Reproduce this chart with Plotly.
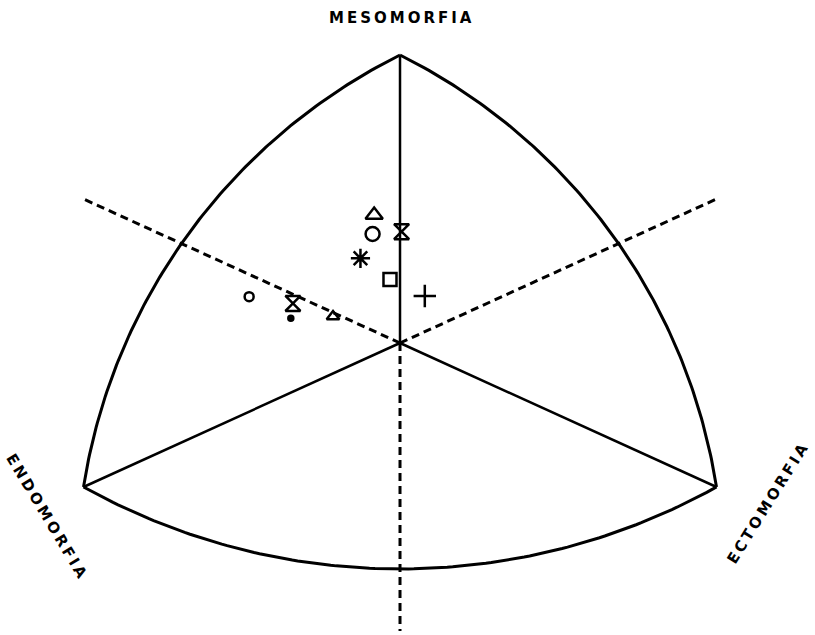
import numpy as np
import plotly.graph_objects as go

# Somatochart coordinates: X = ecto - endo, Y = 2*meso - (endo + ecto)
series_names = ["A", "B", "C", "D", "E", "F", "G", "H", "H2", "I"]
point_x = [-0.49, -0.52, 0.03, -0.75, -0.19, 0.47, -2.86, -2.03, -2.07, -1.27]
point_y = [5.33, 4.54, 4.64, 3.53, 2.65, 1.96, 1.93, 1.65, 1.03, 1.10]
point_symbol = ["triangle-up-open", "circle-open", "hourglass-open", "asterisk-open",
                "square-open", "cross-thin-open", "circle-open", "hourglass-open",
                "circle", "triangle-up-open"]
point_size = [15, 14, 15, 16, 13, 16, 9, 15, 5, 11]

# Vertices of the somatochart (meso, endo, ecto) and dashed extensions
vertex_meso = (0, 12)
vertex_endo = (-6, -6)
vertex_ecto = (6, -6)
dash_ends = [(-6, 6), (6, 6), (0, -12)]

# Axis ranges and screen scale (pixels per unit) so the chart fills the page
W, H = 815, 635
X_RANGE = [-7.583, 7.867]
Y_RANGE = [-12.167, 14.292]
SX = W / (X_RANGE[1] - X_RANGE[0])
SY = H / (Y_RANGE[1] - Y_RANGE[0])


def arc(p0, p1, sagitta_px, n=120):
    """Circular arc (in screen space) between two vertices, bulging away from the origin."""
    a = np.array([p0[0] * SX, p0[1] * SY])
    b = np.array([p1[0] * SX, p1[1] * SY])
    m = (a + b) / 2
    d = b - a
    h = np.linalg.norm(d) / 2
    nrm = np.array([-d[1], d[0]]) / np.linalg.norm(d)
    if np.dot(nrm, m) < 0:
        nrm = -nrm
    r = (h ** 2 + sagitta_px ** 2) / (2 * sagitta_px)
    c = m - nrm * (r - sagitta_px)
    t0 = np.arctan2(*(a - c)[::-1])
    t1 = np.arctan2(*(b - c)[::-1])
    dt = (t1 - t0 + np.pi) % (2 * np.pi) - np.pi
    t = t0 + np.linspace(0, dt, n)
    return (c[0] + r * np.cos(t)) / SX, (c[1] + r * np.sin(t)) / SY


fig = go.Figure()

# Outline arcs
for p0, p1, s in [(vertex_meso, vertex_endo, 65), (vertex_endo, vertex_ecto, 82),
                  (vertex_ecto, vertex_meso, 65)]:
    ax, ay = arc(p0, p1, s)
    fig.add_trace(go.Scatter(x=ax, y=ay, mode="lines",
                             line=dict(color="black", width=3), hoverinfo="skip"))

# Solid axes from the centre to each vertex
for vx, vy in [vertex_meso, vertex_endo, vertex_ecto]:
    fig.add_trace(go.Scatter(x=[0, vx], y=[0, vy], mode="lines",
                             line=dict(color="black", width=2.5), hoverinfo="skip"))

# Dashed extensions
for ex, ey in dash_ends:
    fig.add_trace(go.Scatter(x=[0, ex], y=[0, ey], mode="lines",
                             line=dict(color="black", width=3, dash="8px,5px"),
                             hoverinfo="skip"))

# Group means
for name, x, y, sym, sz in zip(series_names, point_x, point_y, point_symbol, point_size):
    fig.add_trace(go.Scatter(x=[x], y=[y], mode="markers", name=name,
                             marker=dict(symbol=sym, size=sz, color="black",
                                         line=dict(color="black", width=2.5))))

label_font = dict(family="DejaVu Sans", size=15, color="black")
spaced = '<span style="letter-spacing:3px"><b>{}</b></span>'
common = dict(xref="paper", yref="paper", showarrow=False, font=label_font,
              xanchor="center", yanchor="middle")
fig.add_annotation(x=401 / W, y=1 - 18 / H, text=spaced.format("MESOMORFIA"), **common)
fig.add_annotation(x=47 / W, y=1 - 517 / H, text=spaced.format("ENDOMORFIA"),
                   textangle=59, **common)
fig.add_annotation(x=768 / W, y=1 - 503 / H, text=spaced.format("ECTOMORFIA"),
                   textangle=-58, **common)

fig.update_xaxes(range=X_RANGE, visible=False, fixedrange=True)
fig.update_yaxes(range=Y_RANGE, visible=False, fixedrange=True)
fig.update_layout(width=W, height=H, autosize=False, showlegend=False,
                  margin=dict(l=0, r=0, t=0, b=0),
                  paper_bgcolor="white", plot_bgcolor="white")

fig.write_html("out.html")
